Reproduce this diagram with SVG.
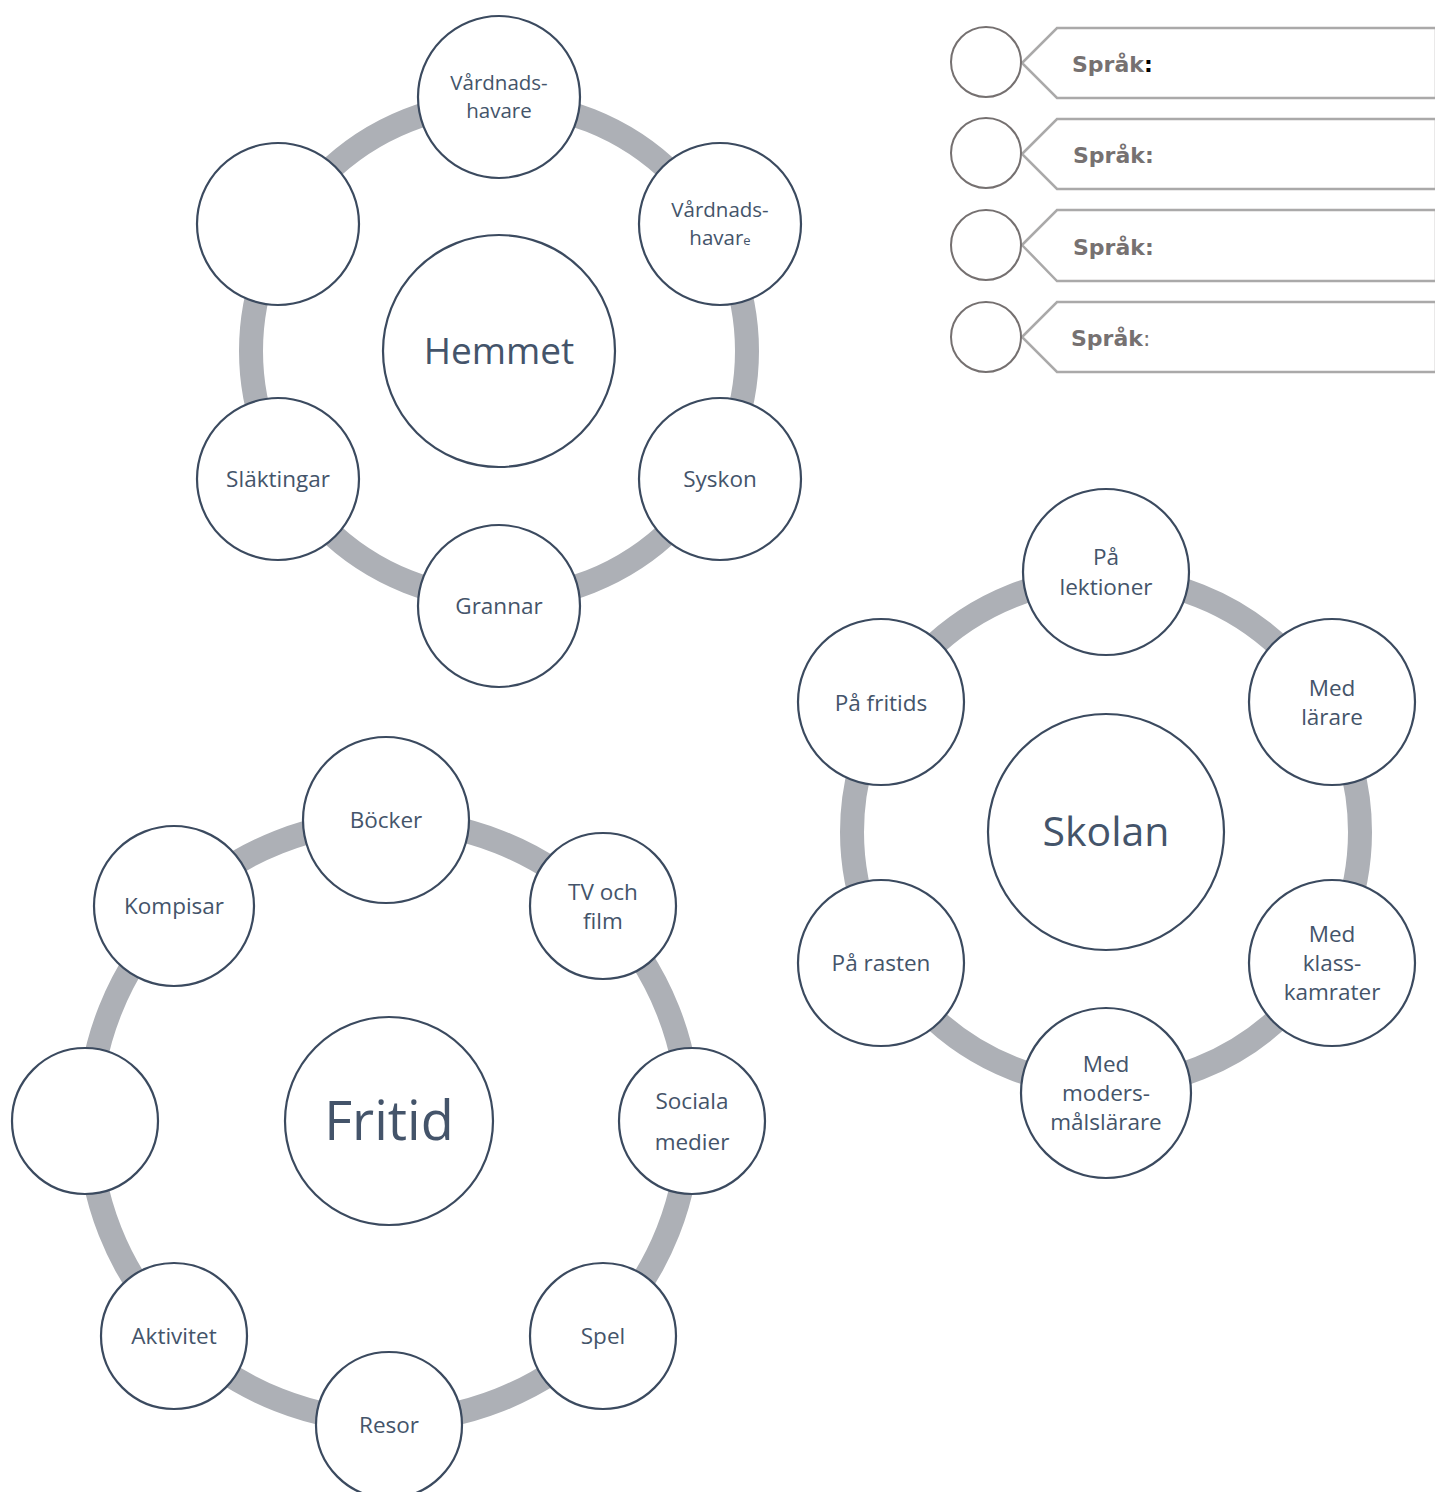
<svg xmlns="http://www.w3.org/2000/svg" width="1435" height="1492" viewBox="0 0 1435 1492">
<style>
.ring{fill:none;stroke:#adb0b6;stroke-width:24}
.node{fill:#fff;stroke:#3b4a5f;stroke-width:2.2}
.t{font-family:"Open Sans","Noto Sans",sans-serif;font-size:22.5px;fill:#44546a;text-anchor:middle}
.s{font-size:20.5px}
.big{font-family:"Open Sans","Noto Sans",sans-serif;fill:#44546a;text-anchor:middle}
.lc{fill:#fff;stroke:#757070;stroke-width:2}
.ban{fill:#fff;stroke:#aaa9a9;stroke-width:2.5}
.sp{font-family:"DejaVu Sans","Liberation Sans",sans-serif;font-weight:bold;font-size:22px;fill:#767171}
</style>
<rect width="1435" height="1492" fill="#fff"/>
<g id="connectors">
<circle class="ring" cx="499" cy="351" r="248"/>
<circle class="ring" cx="1106" cy="832" r="254"/>
<circle class="ring" cx="389" cy="1121" r="300" stroke-width="22"/>
</g>
<g id="hemmet">
<circle class="node" cx="499" cy="351" r="116"/>
<text class="big" x="499" y="364" font-size="37">Hemmet</text>
</g>
<g id="h-vard1"><circle class="node" cx="499" cy="97" r="81"/><text class="t s" x="499" y="90">Vårdnads-</text><text class="t s" x="499" y="118">havare</text></g>
<g id="h-vard2"><circle class="node" cx="720" cy="224" r="81"/><text class="t s" x="720" y="217">Vårdnads-</text><text class="t s" x="720" y="245">havar<tspan font-size="13">e</tspan></text></g>
<g id="h-syskon"><circle class="node" cx="720" cy="479" r="81"/><text class="t" x="720" y="487">Syskon</text></g>
<g id="h-grannar"><circle class="node" cx="499" cy="606" r="81"/><text class="t" x="499" y="614">Grannar</text></g>
<g id="h-slakt"><circle class="node" cx="278" cy="479" r="81"/><text class="t" x="278" y="487">Släktingar</text></g>
<g id="h-empty"><circle class="node" cx="278" cy="224" r="81"/></g>

<g id="skolan">
<circle class="node" cx="1106" cy="832" r="118"/>
<text class="big" x="1106" y="846" font-size="41">Skolan</text>
</g>
<g id="s-lekt"><circle class="node" cx="1106" cy="572" r="83"/><text class="t" x="1106" y="565">På</text><text class="t" x="1106" y="595">lektioner</text></g>
<g id="s-lar"><circle class="node" cx="1332" cy="702" r="83"/><text class="t" x="1332" y="696">Med</text><text class="t" x="1332" y="725">lärare</text></g>
<g id="s-klass"><circle class="node" cx="1332" cy="963" r="83"/><text class="t" x="1332" y="942">Med</text><text class="t" x="1332" y="971">klass-</text><text class="t" x="1332" y="1000">kamrater</text></g>
<g id="s-moders"><circle class="node" cx="1106" cy="1093" r="85"/><text class="t" x="1106" y="1072">Med</text><text class="t" x="1106" y="1101">moders-</text><text class="t" x="1106" y="1130">målslärare</text></g>
<g id="s-rasten"><circle class="node" cx="881" cy="963" r="83"/><text class="t" x="881" y="971">På rasten</text></g>
<g id="s-fritids"><circle class="node" cx="881" cy="702" r="83"/><text class="t" x="881" y="711">På fritids</text></g>

<g id="fritid">
<circle class="node" cx="389" cy="1121" r="104"/>
<text class="big" x="389" y="1140" font-size="54">Fritid</text>
</g>
<g id="f-bocker"><circle class="node" cx="386" cy="820" r="83"/><text class="t" x="386" y="828">Böcker</text></g>
<g id="f-tv"><circle class="node" cx="603" cy="906" r="73"/><text class="t" x="603" y="900">TV och</text><text class="t" x="603" y="929">film</text></g>
<g id="f-sociala"><circle class="node" cx="692" cy="1121" r="73"/><text class="t" x="692" y="1109">Sociala</text><text class="t" x="692" y="1150">medier</text></g>
<g id="f-spel"><circle class="node" cx="603" cy="1336" r="73"/><text class="t" x="603" y="1344">Spel</text></g>
<g id="f-resor"><circle class="node" cx="389" cy="1425" r="73"/><text class="t" x="389" y="1433">Resor</text></g>
<g id="f-aktivitet"><circle class="node" cx="174" cy="1336" r="73"/><text class="t" x="174" y="1344">Aktivitet</text></g>
<g id="f-empty"><circle class="node" cx="85" cy="1121" r="73"/></g>
<g id="f-kompisar"><circle class="node" cx="174" cy="906" r="80"/><text class="t" x="174" y="914">Kompisar</text></g>

<g id="legend1"><polygon class="ban" points="1022,63 1057,28 1436,28 1436,98 1057,98"/><circle class="lc" cx="986" cy="62" r="35"/><text class="sp" x="1072" y="72">Språk<tspan fill="#000">:</tspan></text></g>
<g id="legend2"><polygon class="ban" points="1022,154 1057,119 1436,119 1436,189 1057,189"/><circle class="lc" cx="986" cy="153" r="35"/><text class="sp" x="1073" y="163">Språk:</text></g>
<g id="legend3"><polygon class="ban" points="1022,245 1057,210 1436,210 1436,281 1057,281"/><circle class="lc" cx="986" cy="245" r="35"/><text class="sp" x="1073" y="255">Språk:</text></g>
<g id="legend4"><polygon class="ban" points="1022,337 1057,302 1436,302 1436,372 1057,372"/><circle class="lc" cx="986" cy="337" r="35"/><text class="sp" x="1071" y="346">Språk<tspan font-weight="normal">:</tspan></text></g>
</svg>
